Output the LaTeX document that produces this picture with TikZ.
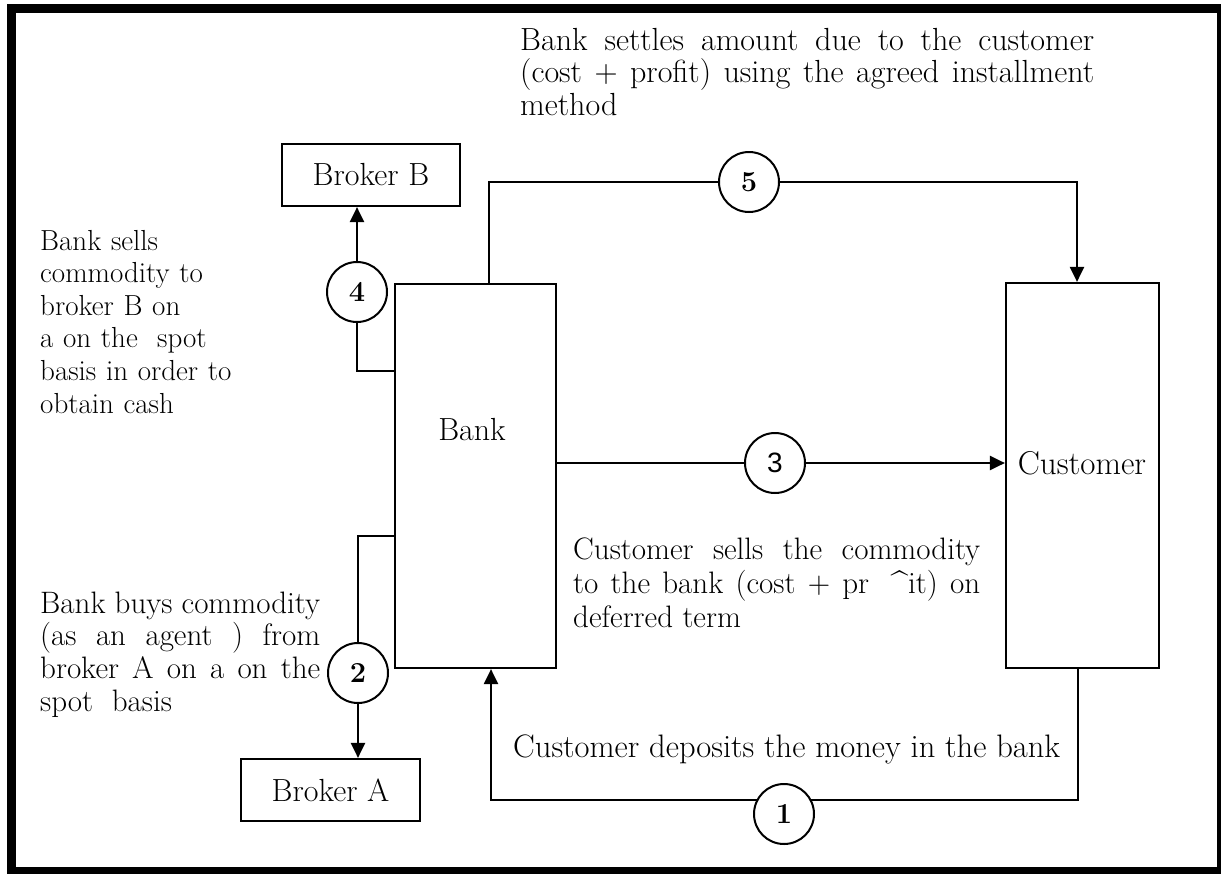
\documentclass[tikz,border=0pt]{standalone}
\usepackage{fontspec}
\newfontfamily\arialf{Liberation Sans}
\usetikzlibrary{arrows.meta}
\begin{document}
\begin{tikzpicture}[x=1pt,y=-1pt,
  every node/.style={font=\fontsize{30}{33}\selectfont, inner sep=0pt},
  box/.style={draw, line width=2.2pt, rectangle},
  num/.style={draw, circle, line width=2pt, minimum size=60pt, fill=white, font=\fontsize{29}{29}\selectfont\bfseries},
  conn/.style={line width=2.2pt},
  arr/.style={conn, -{Triangle[length=15pt,width=14pt]}},
  txt/.style={anchor=base west, align=justify}]

\useasboundingbox (0,0) rectangle (1221,873);
\draw[line width=9pt] (11.5,8.5) rectangle (1221.5,871.5);

% boxes
\node[box, minimum width=161pt, minimum height=384pt] (bank) at (475.5,476) {};
\node[box, minimum width=153pt, minimum height=385pt] (cust) at (1082.5,475.5) {};
\node[box, minimum width=178pt, minimum height=62pt, font=\fontsize{32}{33}\selectfont] (brB) at (371,175) {Broker B};
\node[box, minimum width=179pt, minimum height=62pt, font=\fontsize{32}{33}\selectfont] (brA) at (330.5,790) {Broker A};
\node[font=\fontsize{32}{33}\selectfont] (banklbl) at (472,430) {Bank};
\node[font=\fontsize{33}{33}\selectfont] (custlbl) at (1082,463) {Customer};

% numbered circles
\node[num] (c5) at (749,182) {5};
\node[num] (c4) at (357,292) {4};
\node[num, font=\fontsize{28}{28}\selectfont\arialf] (c3) at (775,463) {3};
\node[num] (c2) at (358,673) {2};

% connectors
\coordinate (k5a) at (489,182);
\coordinate (k5b) at (1077,182);
\draw[conn] (bank.north -| k5a) -- (k5a) -- (c5);
\draw[arr] (c5) -- (k5b) -- (cust.north -| k5b);

\coordinate (k4) at (357,371);
\draw[conn] (bank.west |- k4) -- (k4) -- (c4);
\draw[arr] (c4) -- (c4 |- brB.south);

\draw[conn] (bank.east |- c3) -- (c3);
\draw[arr] (c3) -- (c3 -| cust.west);

\coordinate (k2) at (358,536);
\draw[conn] (bank.west |- k2) -- (k2) -- (c2);
\draw[arr] (c2) -- (c2 |- brA.north);

\coordinate (k1a) at (1078,800);
\coordinate (k1b) at (491,800);
\draw[arr] (cust.south -| k1a) -- (k1a) -- (k1b) -- (bank.south -| k1b);
\node[num] (c1) at (784,814) {1};

% texts
\node[txt, text width=574pt, font=\fontsize{32}{32.5}\selectfont] (t5) at (520,50)
  {Bank settles amount due to the customer \linebreak (cost + profit) using the agreed installment \linebreak method};
\node[txt, text width=300pt, align=left, font=\fontsize{29}{32.6}\selectfont] (t4) at (40,250)
  {Bank sells\\ commodity to\\ broker B on\\ a on the\ \ spot\\ basis in order to\\ obtain cash};
\node[txt, text width=280pt, font=\fontsize{31}{32.7}\selectfont] (t2) at (40,613)
  {Bank buys commodity \linebreak (as an agent ) from \linebreak broker A on a on the \linebreak spot\ \ basis};
\node[txt, text width=407pt, font=\fontsize{31}{34}\selectfont] (t3) at (573,559)
  {Customer sells the commodity \linebreak to the bank (cost + pr\hspace{0.7em}\^{}it) on \linebreak deferred term};
\node[txt, font=\fontsize{32.5}{33}\selectfont] (t1) at (513,757) {Customer deposits the money in the bank};
\end{tikzpicture}
\end{document}
